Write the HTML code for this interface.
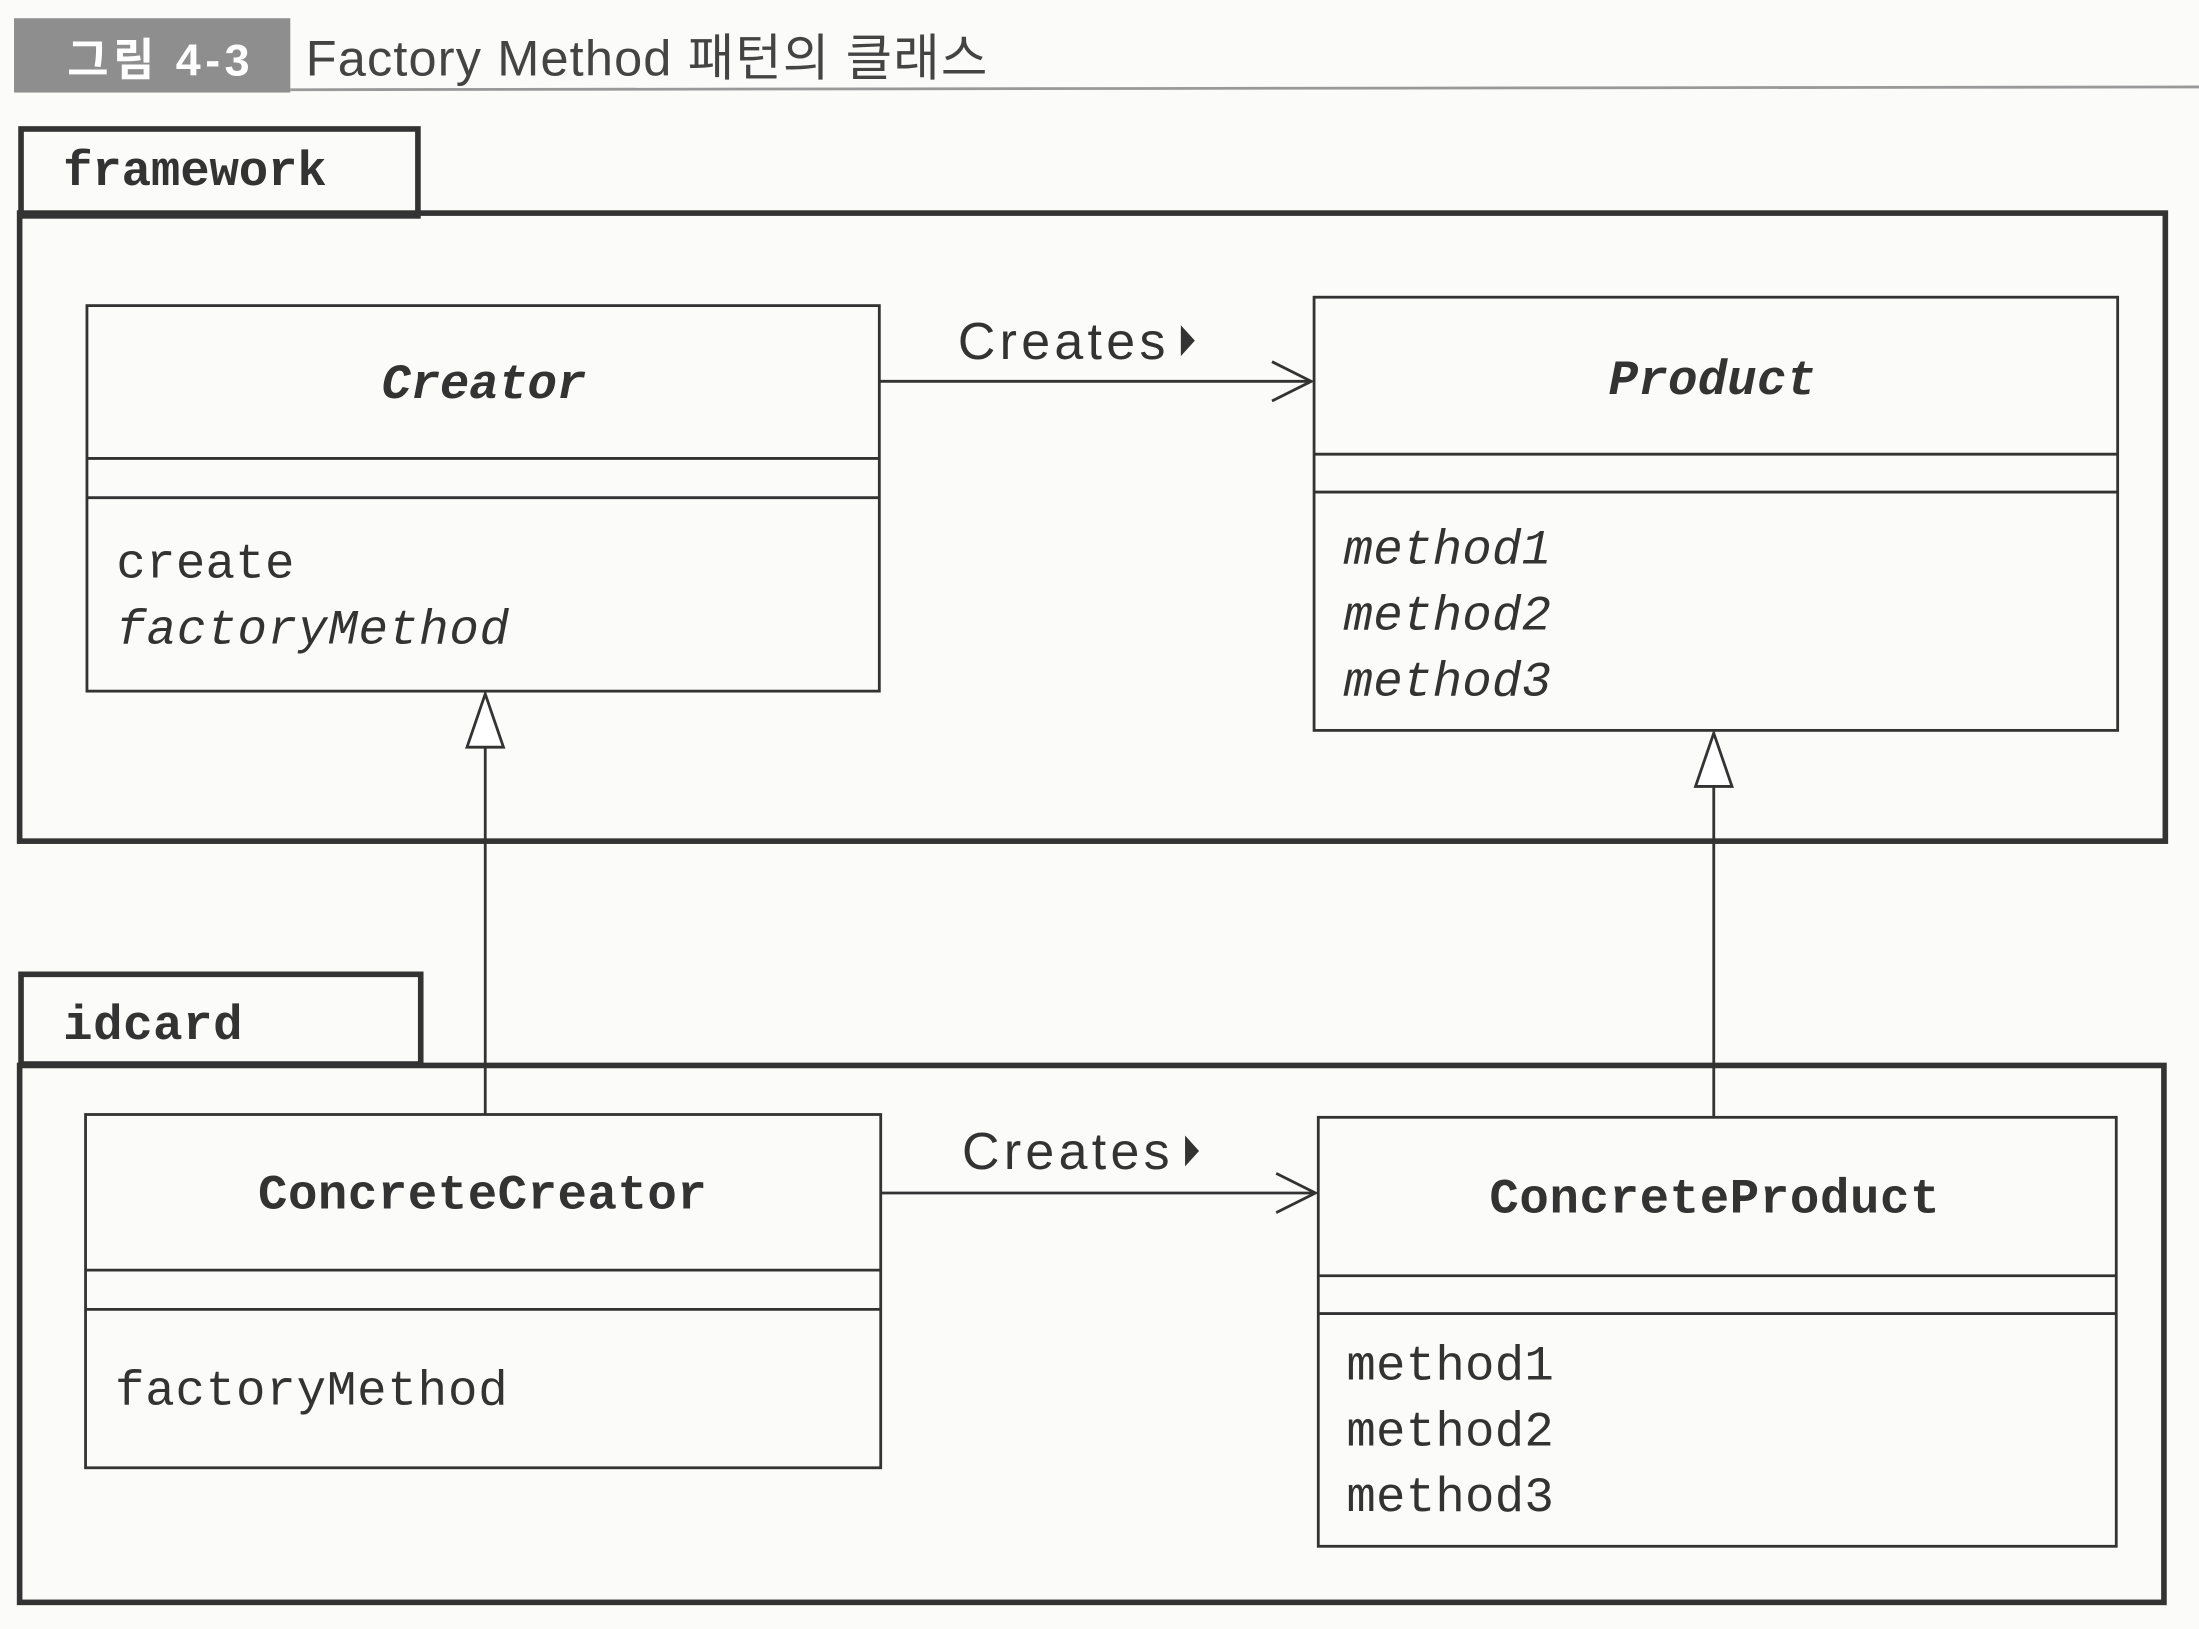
<!DOCTYPE html>
<html><head><meta charset="utf-8"><style>html,body{margin:0;padding:0;background:#fff}svg{display:block}</style></head>
<body>
<svg width="2199" height="1629" viewBox="0 0 1568 1162" preserveAspectRatio="none" xmlns="http://www.w3.org/2000/svg">
<rect width="1568" height="1162" fill="#fbfbfa"/>
<rect x="10" y="13" width="197" height="53" fill="#8e8e8e"/>
<text x="48" y="54" font-family="Liberation Sans, Noto Sans CJK KR, sans-serif" font-size="32" font-weight="bold" fill="#fff" textLength="130">그림 4-3</text>
<text x="218" y="54" font-family="Liberation Sans, Noto Sans CJK KR, sans-serif" font-size="36" fill="#444" textLength="486">Factory Method 패턴의 클래스</text>
<line x1="207" y1="64" x2="1568" y2="62" stroke="#999" stroke-width="2"/>
<g fill="none" stroke="#333">
<rect x="15" y="92" width="283" height="62" stroke-width="4"/>
<rect x="14" y="152" width="1530" height="448" stroke-width="4"/>
<rect x="15" y="695" width="285" height="64" stroke-width="4"/>
<rect x="14" y="760" width="1529" height="383" stroke-width="4"/>
<g stroke-width="2">
<rect x="62" y="218" width="565" height="275"/><line x1="62" y1="327" x2="627" y2="327"/><line x1="62" y1="355" x2="627" y2="355"/>
<rect x="937" y="212" width="573" height="309"/><line x1="937" y1="324" x2="1510" y2="324"/><line x1="937" y1="351" x2="1510" y2="351"/>
<rect x="61" y="795" width="567" height="252"/><line x1="61" y1="906" x2="628" y2="906"/><line x1="61" y1="934" x2="628" y2="934"/>
<rect x="940" y="797" width="569" height="306"/><line x1="940" y1="910" x2="1509" y2="910"/><line x1="940" y1="937" x2="1509" y2="937"/>
<line x1="627" y1="272" x2="935" y2="272"/><polyline points="907,258 935,272 907,286"/>
<line x1="628" y1="851" x2="938" y2="851"/><polyline points="910,837 938,851 910,865"/>
<line x1="346" y1="795" x2="346" y2="533"/><polygon points="346,495 333,533 359,533" fill="#fff"/>
<line x1="1222" y1="797" x2="1222" y2="561"/><polygon points="1222,523 1209,561 1235,561" fill="#fff"/>
</g></g>
<g font-family="Liberation Mono, monospace" fill="#333" font-size="35">
<text x="45" y="132" font-weight="bold" textLength="188">framework</text>
<text x="45" y="741" font-weight="bold" textLength="128">idcard</text>
<text x="272" y="284" font-weight="bold" font-style="italic" textLength="146">Creator</text>
<text x="1147" y="281" font-weight="bold" font-style="italic" textLength="148">Product</text>
<text x="184" y="862" font-weight="bold" textLength="320">ConcreteCreator</text>
<text x="1062" y="865" font-weight="bold" textLength="321">ConcreteProduct</text>
<text x="83" y="412" textLength="127">create</text>
<text x="83" y="459" font-style="italic" textLength="280">factoryMethod</text>
<text x="958" y="402" font-style="italic" textLength="148">method1</text>
<text x="958" y="449" font-style="italic" textLength="148">method2</text>
<text x="958" y="496" font-style="italic" textLength="148">method3</text>
<text x="82" y="1002" textLength="280">factoryMethod</text>
<text x="960" y="984" textLength="148">method1</text>
<text x="960" y="1031" textLength="148">method2</text>
<text x="960" y="1078" textLength="148">method3</text>
</g>
<g font-family="Liberation Sans, sans-serif" font-size="37" fill="#333">
<text x="683" y="256" textLength="148">Creates</text>
<text x="686" y="834" textLength="148">Creates</text>
</g>
<polygon points="842,232 852,243 842,254" fill="#333"/>
<polygon points="845,810 855,821 845,832" fill="#333"/>
</svg>
</body></html>
